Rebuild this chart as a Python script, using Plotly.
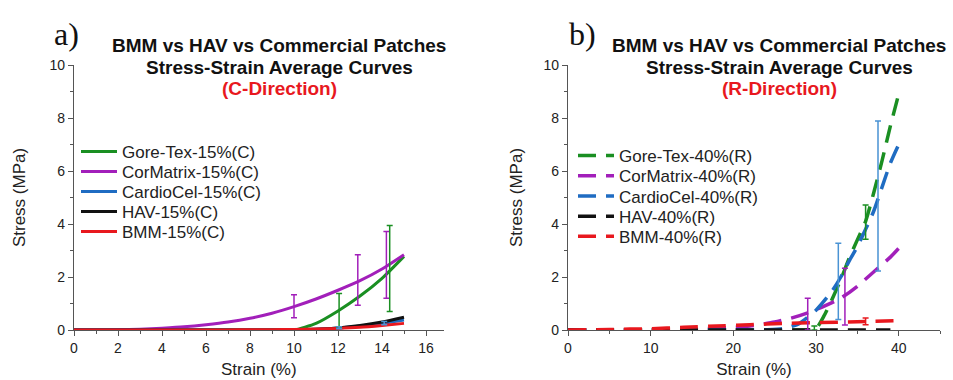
import plotly.graph_objects as go

# ---------------- data: panel a (C-direction) ----------------
strain_c = [0, 1, 2, 3, 4, 5, 6, 7, 8, 9, 10, 11, 12, 13, 14, 15]
goretex_c = [0, 0, 0, 0, 0, 0, 0, 0, 0, 0, 0, 0.25, 0.72, 1.28, 1.95, 2.78]
cormatrix_c = [0, 0, 0.01, 0.03, 0.07, 0.12, 0.2, 0.3, 0.44, 0.63, 0.88, 1.17, 1.5, 1.86, 2.3, 2.84]
cardiocel_c = [0, 0, 0, 0, 0, 0, 0, 0, 0, 0, 0.01, 0.03, 0.08, 0.15, 0.25, 0.38]
hav_c = [0, 0, 0, 0, 0, 0, 0, 0, 0, 0, 0.01, 0.03, 0.08, 0.17, 0.3, 0.48]
bmm_c = [0, 0, 0, 0, 0, 0, 0, 0, 0.01, 0.01, 0.02, 0.04, 0.06, 0.1, 0.17, 0.25]

# error bars (x, mean, upper, lower)
cormatrix_c_err_x = [10, 12.9, 14.2]
cormatrix_c_err_y = [0.88, 1.89, 2.46]
cormatrix_c_err_hi = [1.33, 2.84, 3.72]
cormatrix_c_err_lo = [0.46, 0.93, 1.2]
goretex_c_err_x = [12.05, 14.35]
goretex_c_err_y = [0.74, 2.25]
goretex_c_err_hi = [1.38, 3.94]
goretex_c_err_lo = [0.08, 0.7]
cardiocel_c_err_x = [12.05, 14.1]
cardiocel_c_err_y = [0.08, 0.26]
cardiocel_c_err_hi = [0.12, 0.32]
cardiocel_c_err_lo = [0.05, 0.2]

# ---------------- data: panel b (R-direction) ----------------
goretex_r_x = [0, 5, 10, 15, 20, 25, 28, 29, 30, 31, 32, 33, 34, 35, 36, 37, 38, 39, 40]
goretex_r_y = [0, 0, 0, 0, 0, 0, 0, 0, 0.05, 0.55, 1.2, 1.9, 2.7, 3.4, 4.1, 5.2, 6.4, 7.7, 8.9]
cormatrix_r_x = [0, 5, 10, 15, 20, 22, 25, 27, 29, 31, 33, 35, 37, 39, 40]
cormatrix_r_y = [0, 0, 0, 0.03, 0.1, 0.15, 0.3, 0.45, 0.65, 0.9, 1.2, 1.65, 2.2, 2.75, 3.08]
cardiocel_r_x = [0, 5, 10, 15, 20, 24, 26, 28, 30, 32, 33, 34, 35, 36, 37, 38, 39, 40]
cardiocel_r_y = [0, 0, 0, 0, 0, 0.01, 0.05, 0.25, 0.75, 1.5, 2.0, 2.6, 3.15, 3.8, 4.5, 5.4, 6.3, 7.0]
hav_r_x = [0, 10, 20, 30, 39]
hav_r_y = [0, 0, 0, 0, 0]
bmm_r_x = [0, 5, 10, 14, 18, 22, 26, 30, 35, 40]
bmm_r_y = [0, 0.02, 0.05, 0.1, 0.15, 0.2, 0.25, 0.28, 0.31, 0.35]

goretex_r_err_x = [29.8, 36.0]
goretex_r_err_y = [0.05, 4.1]
goretex_r_err_hi = [0.15, 4.72]
goretex_r_err_lo = [0.0, 3.42]
cormatrix_r_err_x = [29, 33.5]
cormatrix_r_err_y = [0.68, 1.3]
cormatrix_r_err_hi = [1.2, 2.33]
cormatrix_r_err_lo = [0.0, 0.19]
cardiocel_r_err_x = [32.7, 37.5]
cardiocel_r_err_y = [1.85, 5.1]
cardiocel_r_err_hi = [3.27, 7.89]
cardiocel_r_err_lo = [0.4, 2.23]
bmm_r_err_x = [36]
bmm_r_err_y = [0.31]
bmm_r_err_hi = [0.45]
bmm_r_err_lo = [0.2]

names_c = ["Gore-Tex-15%(C)", "CorMatrix-15%(C)", "CardioCel-15%(C)", "HAV-15%(C)", "BMM-15%(C)"]
names_r = ["Gore-Tex-40%(R)", "CorMatrix-40%(R)", "CardioCel-40%(R)", "HAV-40%(R)", "BMM-40%(R)"]

GREEN = "#1a8f22"
PURPLE = "#a21fba"
BLUE = "#1f6cc2"
LBLUE = "#4a93d4"
BLACK = "#111111"
RED = "#e8181e"
FONT = "Arial, Liberation Sans, sans-serif"

W, H = 953, 380
fig = go.Figure()

# one single-entry legend per series so the rows sit 20 px apart, as in the original
legend_layout = {}


def add_legend(idx, x_px, y_px):
    key = "legend" if idx == 1 else "legend%d" % idx
    legend_layout[key] = dict(
        x=x_px / W, y=1 - y_px / H, xanchor="left", yanchor="middle",
        bgcolor="rgba(0,0,0,0)", borderwidth=0,
        font=dict(family=FONT, size=17, color="#222222"),
        itemwidth=36, tracegroupgap=0)
    return key


# ---- panel a lines ----
series_c = [
    (names_c[0], goretex_c, GREEN),
    (names_c[1], cormatrix_c, PURPLE),
    (names_c[2], cardiocel_c, BLUE),
    (names_c[3], hav_c, BLACK),
    (names_c[4], bmm_c, RED),
]
for i, (name, ys, col) in enumerate(series_c):
    lg = add_legend(i + 1, 76, 152 + 20 * i)
    fig.add_trace(go.Scatter(
        x=strain_c, y=ys, name=name, mode="lines",
        line=dict(color=col, width=3, shape="spline", smoothing=0.6),
        xaxis="x", yaxis="y", legend=lg))


def err_trace(xs, ys, hi, lo, col, xa, ya):
    return go.Scatter(
        x=xs, y=ys, mode="markers", showlegend=False, hoverinfo="skip",
        marker=dict(size=1, color="rgba(0,0,0,0)"),
        error_y=dict(type="data", symmetric=False,
                     array=[h - y for h, y in zip(hi, ys)],
                     arrayminus=[y - l for y, l in zip(ys, lo)],
                     color=col, thickness=1.5, width=3),
        xaxis=xa, yaxis=ya)


fig.add_trace(err_trace(cormatrix_c_err_x, cormatrix_c_err_y, cormatrix_c_err_hi, cormatrix_c_err_lo, PURPLE, "x", "y"))
fig.add_trace(err_trace(goretex_c_err_x, goretex_c_err_y, goretex_c_err_hi, goretex_c_err_lo, GREEN, "x", "y"))
fig.add_trace(err_trace(cardiocel_c_err_x, cardiocel_c_err_y, cardiocel_c_err_hi, cardiocel_c_err_lo, LBLUE, "x", "y"))

# ---- panel b lines ----
series_r = [
    (names_r[0], goretex_r_x, goretex_r_y, GREEN),
    (names_r[1], cormatrix_r_x, cormatrix_r_y, PURPLE),
    (names_r[2], cardiocel_r_x, cardiocel_r_y, BLUE),
    (names_r[3], hav_r_x, hav_r_y, BLACK),
    (names_r[4], bmm_r_x, bmm_r_y, RED),
]
for i, (name, xs, ys, col) in enumerate(series_r):
    lg = add_legend(i + 6, 573, 156 + 20.2 * i)
    fig.add_trace(go.Scatter(
        x=xs, y=ys, name=name, mode="lines",
        line=dict(color=col, width=3.5, dash="18px,10px", shape="spline", smoothing=0.6),
        xaxis="x2", yaxis="y2", legend=lg))

fig.add_trace(err_trace(goretex_r_err_x, goretex_r_err_y, goretex_r_err_hi, goretex_r_err_lo, GREEN, "x2", "y2"))
fig.add_trace(err_trace(cormatrix_r_err_x, cormatrix_r_err_y, cormatrix_r_err_hi, cormatrix_r_err_lo, PURPLE, "x2", "y2"))
fig.add_trace(err_trace(cardiocel_r_err_x, cardiocel_r_err_y, cardiocel_r_err_hi, cardiocel_r_err_lo, LBLUE, "x2", "y2"))
fig.add_trace(err_trace(bmm_r_err_x, bmm_r_err_y, bmm_r_err_hi, bmm_r_err_lo, RED, "x2", "y2"))

axis_common = dict(
    showline=True, linecolor="#555555", linewidth=1.2, showgrid=False, zeroline=False,
    ticks="outside", ticklen=5, tickwidth=1.2, tickcolor="#555555",
    tickfont=dict(family=FONT, size=14, color="#222222"),
    automargin=False, fixedrange=True,
)
ydom = [1 - 330 / H, 1 - 65 / H]
title_font = dict(size=17, family=FONT, color="#222222")

fig.update_layout(
    width=W, height=H,
    margin=dict(l=0, r=0, t=0, b=0),
    paper_bgcolor="white", plot_bgcolor="white",
    font=dict(family=FONT, color="#222222"),
    xaxis=dict(axis_common, domain=[74 / W, 443.6 / W], range=[0, 16.8], dtick=2,
               minor=dict(dtick=1, ticks="outside", ticklen=3, tickcolor="#555555"),
               title=dict(text="Strain (%)", font=title_font, standoff=8),
               anchor="y"),
    yaxis=dict(axis_common, domain=ydom, range=[0, 10], dtick=2,
               minor=dict(dtick=1, ticks="outside", ticklen=3, tickcolor="#555555"),
               title=dict(text="Stress (MPa)", font=title_font, standoff=19),
               anchor="x"),
    xaxis2=dict(axis_common, domain=[568 / W, 940 / W], range=[0, 45], dtick=10,
                minor=dict(dtick=5, ticks="outside", ticklen=3, tickcolor="#555555"),
                title=dict(text="Strain (%)", font=title_font, standoff=8),
                anchor="y2"),
    yaxis2=dict(axis_common, domain=ydom, range=[0, 10], dtick=2,
                minor=dict(dtick=1, ticks="outside", ticklen=3, tickcolor="#555555"),
                title=dict(text="Stress (MPa)", font=title_font, standoff=16),
                anchor="x2"),
    showlegend=True,
    **legend_layout,
)

# titles
anns = []
for cx, direction in [(279, "(C-Direction)"), (779, "(R-Direction)")]:
    anns.append(dict(x=cx / W, y=1 - 45 / H, text="<b>BMM vs HAV vs Commercial Patches</b>"))
    anns.append(dict(x=cx / W, y=1 - 67 / H, text="<b>Stress-Strain Average Curves</b>"))
    anns.append(dict(x=cx / W, y=1 - 88 / H, text="<b>%s</b>" % direction, color=RED))
for a in anns:
    col = a.pop("color", "#111111")
    fig.add_annotation(xref="paper", yref="paper", xanchor="center", yanchor="middle",
                       showarrow=False, font=dict(family=FONT, size=19, color=col), **a)
fig.add_annotation(xref="paper", yref="paper", x=66 / W, y=1 - 34 / H, text="a)",
                   showarrow=False, xanchor="center", yanchor="middle",
                   font=dict(family="Liberation Serif, Times New Roman, serif", size=32, color="#111111"))
fig.add_annotation(xref="paper", yref="paper", x=582 / W, y=1 - 34 / H, text="b)",
                   showarrow=False, xanchor="center", yanchor="middle",
                   font=dict(family="Liberation Serif, Times New Roman, serif", size=32, color="#111111"))

fig.write_html("out.html", config={"displayModeBar": False},
               post_script="document.body.style.margin='0';document.body.style.overflow='hidden';")
